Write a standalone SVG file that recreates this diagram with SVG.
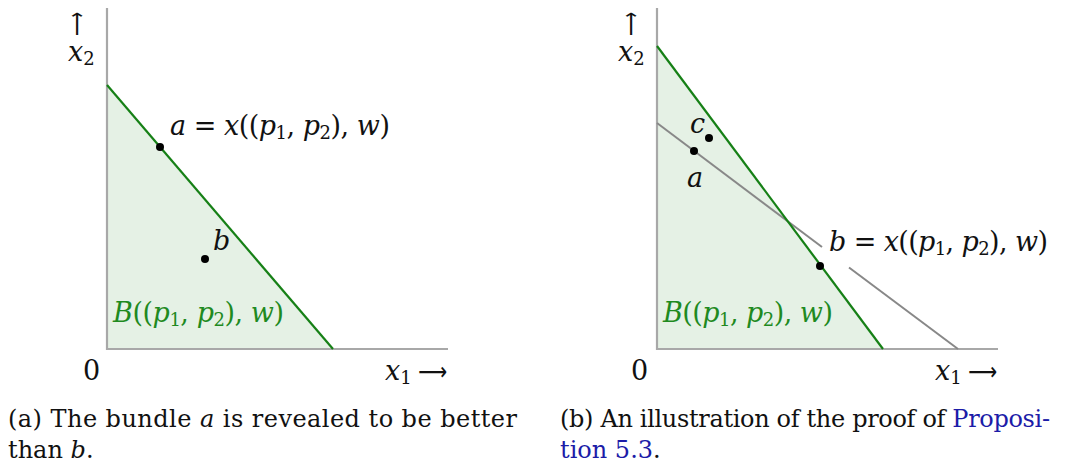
<svg xmlns="http://www.w3.org/2000/svg" width="1068" height="470" viewBox="0 0 1068 470">
<style>
.axis{stroke:#a8a8a8;stroke-width:2.2;fill:none}
.budget{stroke:#168016;stroke-width:2.2;fill:none}
.gray{stroke:#888;stroke-width:2;fill:none}
.fill{fill:#e5f1e5;stroke:none}
.dot{fill:#000}
.m{font-family:"DejaVu Serif","Liberation Serif",serif;font-size:27px;fill:#111}
.i{font-style:italic}
.g{fill:#1f8a1f}
.cap{font-family:"DejaVu Serif","Liberation Serif",serif;font-size:24px;fill:#111}
.link{fill:#1c1ca8}
.sub{font-size:18px}
.arr{font-family:"DejaVu Sans","Noto Sans",sans-serif;font-size:25px;fill:#111}
</style>
<g id="panel-a">
  <polygon class="fill" points="107,85 333,349 107,349"/>
  <g id="connectors-a">
    <line class="axis" x1="107" y1="8" x2="107" y2="350"/>
    <line class="axis" x1="106" y1="349" x2="448" y2="349"/>
    <line class="budget" x1="107" y1="85" x2="333" y2="349"/>
  </g>
  <g id="point-a1"><circle class="dot" cx="160" cy="147" r="4"/>
    <text class="m" x="170" y="135" textLength="220"><tspan class="i">a</tspan> = <tspan class="i">x</tspan>((<tspan class="i">p</tspan><tspan class="sub" dy="4">1</tspan><tspan dy="-4">, </tspan><tspan class="i">p</tspan><tspan class="sub" dy="4">2</tspan><tspan dy="-4">), </tspan><tspan class="i">w</tspan>)</text></g>
  <g id="point-b1"><circle class="dot" cx="205" cy="259" r="4"/>
    <text class="m i" x="213" y="250">b</text></g>
  <g id="set-a"><text class="m g" x="113" y="322" textLength="171"><tspan class="i">B</tspan>((<tspan class="i">p</tspan><tspan class="sub" dy="4">1</tspan><tspan dy="-4">, </tspan><tspan class="i">p</tspan><tspan class="sub" dy="4">2</tspan><tspan dy="-4">), </tspan><tspan class="i">w</tspan>)</text></g>
  <g id="labels-a">
    <text class="m" x="83" y="380">0</text>
    <text class="m" x="385" y="380"><tspan class="i">x</tspan><tspan class="sub" dy="4">1</tspan></text>
    <text class="arr" x="418" y="380" textLength="29" lengthAdjust="spacingAndGlyphs">⟶</text>
    <text class="arr" transform="translate(85,36) rotate(-90)" textLength="24" lengthAdjust="spacingAndGlyphs">⟶</text>
    <text class="m" x="68" y="61"><tspan class="i">x</tspan><tspan class="sub" dy="4">2</tspan></text>
  </g>
  <g id="caption-a">
    <text class="cap" x="8" y="427" textLength="509">(a) The bundle <tspan class="i">a</tspan> is revealed to be better</text>
    <text class="cap" x="8" y="458">than <tspan class="i">b</tspan>.</text>
  </g>
</g>
<g id="panel-b">
  <polygon class="fill" points="657,46 883,349 657,349"/>
  <g id="connectors-b">
    <line class="axis" x1="657" y1="8" x2="657" y2="350"/>
    <line class="axis" x1="656" y1="349" x2="998" y2="349"/>
    <line class="gray" x1="657" y1="123" x2="822" y2="247"/>
    <line class="gray" x1="849" y1="267.5" x2="958" y2="349"/>
    <line class="budget" x1="657" y1="46" x2="883" y2="349"/>
  </g>
  <g id="point-c"><circle class="dot" cx="709" cy="138" r="4"/>
    <text class="m i" x="690" y="133">c</text></g>
  <g id="point-a2"><circle class="dot" cx="694" cy="151" r="4"/>
    <text class="m i" x="687" y="187">a</text></g>
  <g id="point-b2"><circle class="dot" cx="820" cy="266" r="4"/>
    <text class="m" x="829" y="251" textLength="219"><tspan class="i">b</tspan> = <tspan class="i">x</tspan>((<tspan class="i">p</tspan><tspan class="sub" dy="4">1</tspan><tspan dy="-4">, </tspan><tspan class="i">p</tspan><tspan class="sub" dy="4">2</tspan><tspan dy="-4">), </tspan><tspan class="i">w</tspan>)</text></g>
  <g id="set-b"><text class="m g" x="663" y="322" textLength="170"><tspan class="i">B</tspan>((<tspan class="i">p</tspan><tspan class="sub" dy="4">1</tspan><tspan dy="-4">, </tspan><tspan class="i">p</tspan><tspan class="sub" dy="4">2</tspan><tspan dy="-4">), </tspan><tspan class="i">w</tspan>)</text></g>
  <g id="labels-b">
    <text class="m" x="631" y="380">0</text>
    <text class="m" x="935" y="380"><tspan class="i">x</tspan><tspan class="sub" dy="4">1</tspan></text>
    <text class="arr" x="968" y="380" textLength="29" lengthAdjust="spacingAndGlyphs">⟶</text>
    <text class="arr" transform="translate(639,36) rotate(-90)" textLength="24" lengthAdjust="spacingAndGlyphs">⟶</text>
    <text class="m" x="618" y="61"><tspan class="i">x</tspan><tspan class="sub" dy="4">2</tspan></text>
  </g>
  <g id="caption-b">
    <text class="cap" x="560" y="427" textLength="490">(b) An illustration of the proof of <tspan class="link">Proposi-</tspan></text>
    <text class="cap" x="560" y="458"><tspan class="link">tion 5.3</tspan>.</text>
  </g>
</g>
</svg>
